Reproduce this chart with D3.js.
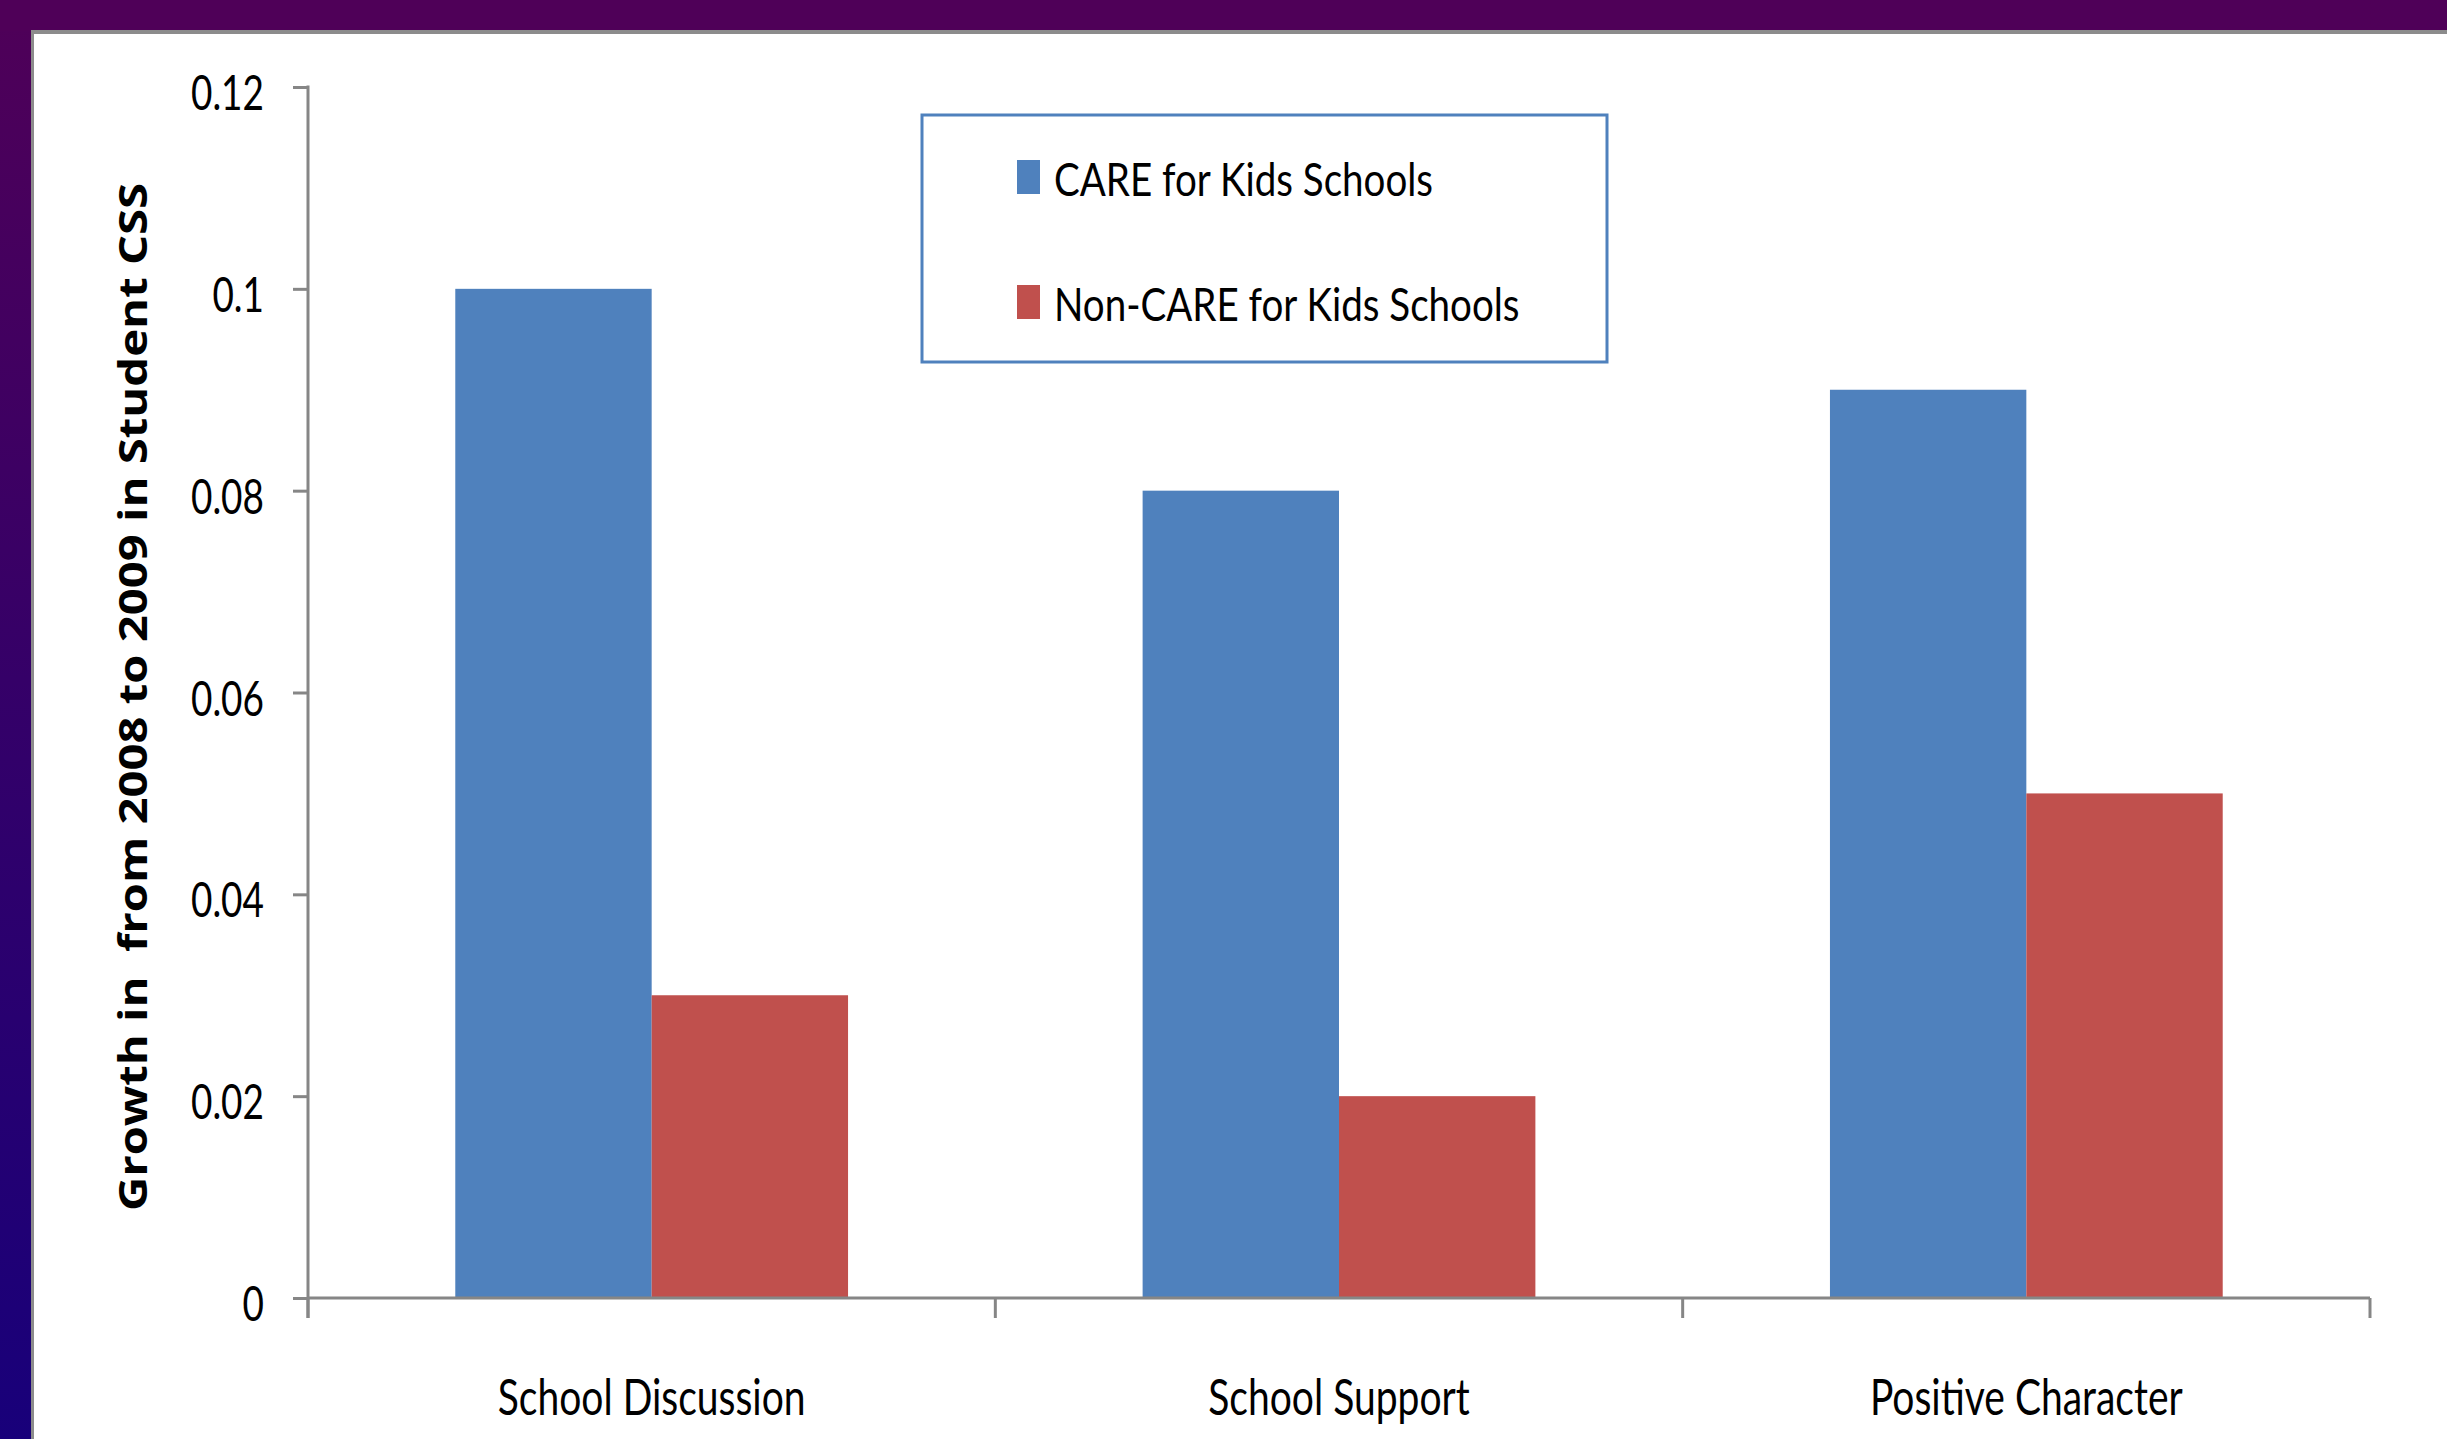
<!DOCTYPE html>
<html>
<head>
<meta charset="utf-8">
<script src="https://cdn.jsdelivr.net/npm/d3@7"></script>
<style>
  html, body { margin: 0; padding: 0; background: #fff; }
  svg { display: block; }
</style>
</head>
<body>
<div id="my_dataviz"></div>
<script>
// chart data
const categories = ["School Discussion", "School Support", "Positive Character"];
const seriesNames = ["CARE for Kids Schools", "Non-CARE for Kids Schools"];
const careValues = [0.10, 0.08, 0.09];
const nonCareValues = [0.03, 0.02, 0.05];
const yTicks = [0, 0.02, 0.04, 0.06, 0.08, 0.1, 0.12];
const yTickLabels = ["0", "0.02", "0.04", "0.06", "0.08", "0.1", "0.12"];
const yTitle = "Growth in  from 2008 to 2009 in Student CSS";

const width = 2447, height = 1439;
const colors = ["#4f81bd", "#c0504d"];
const axisColor = "#868686";
const font = "Lato, 'Open Sans', sans-serif";

// squeeze text horizontally (the original is a stretched slide)
function squeeze(sel, k) {
  sel.each(function () {
    const w = this.getComputedTextLength();
    d3.select(this).attr("textLength", w * k).attr("lengthAdjust", "spacingAndGlyphs");
  });
}

const svg = d3.select("#my_dataviz")
  .append("svg")
  .attr("width", width)
  .attr("height", height);

const defs = svg.append("defs");
const grad = defs.append("linearGradient")
  .attr("id", "side")
  .attr("x1", 0).attr("y1", 0).attr("x2", 0).attr("y2", 1);
grad.append("stop").attr("offset", "0%").attr("stop-color", "#4f0058");
grad.append("stop").attr("offset", "100%").attr("stop-color", "#18007a");

// slide frame
svg.append("rect").attr("x", 0).attr("y", 0).attr("width", width).attr("height", height).attr("fill", "url(#side)");
svg.append("rect").attr("x", 0).attr("y", 0).attr("width", width).attr("height", 31).attr("fill", "#4f0058");
svg.append("rect").attr("x", 31).attr("y", 30).attr("width", width - 31).attr("height", height - 30).attr("fill", "#8c8c8c");
svg.append("rect").attr("x", 34).attr("y", 34).attr("width", width - 34).attr("height", height - 34).attr("fill", "#fff");

const margin = {top: 87, left: 308, right: 2370, bottom: 1298};

const x0 = d3.scaleBand()
  .domain(categories)
  .range([margin.left, margin.right])
  .paddingInner(0).paddingOuter(0);

const x1 = d3.scaleBand()
  .domain(seriesNames)
  .range([0, x0.bandwidth()])
  .paddingInner(0).paddingOuter(0.75);

const y = d3.scaleLinear()
  .domain([0, 0.12])
  .range([margin.bottom, margin.top]);

const rows = categories.map((c, i) => ({cat: c, vals: [careValues[i], nonCareValues[i]]}));

// bars
svg.append("g")
  .selectAll("g")
  .data(rows)
  .enter().append("g")
    .attr("transform", d => `translate(${x0(d.cat)},0)`)
  .selectAll("rect")
  .data(d => d.vals.map((v, j) => ({s: seriesNames[j], v: v, j: j})))
  .enter().append("rect")
    .attr("x", d => x1(d.s))
    .attr("y", d => y(d.v))
    .attr("width", x1.bandwidth())
    .attr("height", d => y(0) - y(d.v))
    .attr("fill", d => colors[d.j]);

// y axis
const yAxis = svg.append("g")
  .attr("transform", `translate(${margin.left},0)`)
  .call(d3.axisLeft(y).tickValues(yTicks).tickSize(15).tickSizeOuter(0).tickFormat(""));
yAxis.select(".domain").remove();
yAxis.selectAll(".tick line").attr("stroke", axisColor).attr("stroke-width", 3);
yAxis.append("line")
  .attr("x1", 0).attr("x2", 0)
  .attr("y1", y(0.12) - 1.5).attr("y2", y(0) + 20)
  .attr("stroke", axisColor).attr("stroke-width", 3);

const yLabels = svg.append("g")
  .selectAll("text")
  .data(yTicks)
  .enter().append("text")
    .attr("x", 264)
    .attr("y", d => y(d) + 23)
    .attr("text-anchor", "end")
    .attr("font-family", font)
    .attr("font-size", 48)
    .attr("fill", "#000")
    .text((d, i) => yTickLabels[i]);
squeeze(yLabels, 0.77);

// x axis
const xAxis = svg.append("g")
  .attr("transform", `translate(0,${margin.bottom})`);
xAxis.append("line")
  .attr("x1", margin.left).attr("x2", margin.right)
  .attr("stroke", axisColor).attr("stroke-width", 3);
xAxis.selectAll(".xtick")
  .data(categories.map(c => x0(c)).concat([margin.right]))
  .enter().append("line")
    .attr("x1", d => d).attr("x2", d => d)
    .attr("y1", 0).attr("y2", 20)
    .attr("stroke", axisColor).attr("stroke-width", 3);

const xLabels = svg.append("g")
  .selectAll("text")
  .data(categories)
  .enter().append("text")
    .attr("x", d => x0(d) + x0.bandwidth() / 2)
    .attr("y", 1415)
    .attr("text-anchor", "middle")
    .attr("font-family", font)
    .attr("font-size", 50)
    .attr("fill", "#000")
    .text(d => d);
squeeze(xLabels, 0.78);

// y title
const title = svg.append("text")
  .attr("transform", "translate(147,697) rotate(-90)")
  .attr("text-anchor", "middle")
  .attr("font-family", "'Open Sans', sans-serif")
  .attr("font-weight", "bold")
  .attr("font-size", 40)
  .attr("fill", "#000")
  .style("white-space", "pre")
  .text(yTitle);
title.attr("textLength", 1028).attr("lengthAdjust", "spacingAndGlyphs");

// legend
const legend = svg.append("g");
legend.append("rect")
  .attr("x", 922).attr("y", 115)
  .attr("width", 685).attr("height", 247)
  .attr("fill", "#fff")
  .attr("stroke", "#4f81bd").attr("stroke-width", 3);

const items = legend.selectAll(".item")
  .data(seriesNames)
  .enter().append("g")
    .attr("transform", (d, i) => `translate(1017,${160 + i * 125})`);
items.append("rect")
  .attr("width", 23).attr("height", 34)
  .attr("fill", (d, i) => colors[i]);
const legendText = items.append("text")
  .attr("x", 37).attr("y", 36)
  .attr("font-family", font)
  .attr("font-size", 47)
  .attr("fill", "#000")
  .text(d => d);
squeeze(legendText, 0.82);
</script>
</body>
</html>
